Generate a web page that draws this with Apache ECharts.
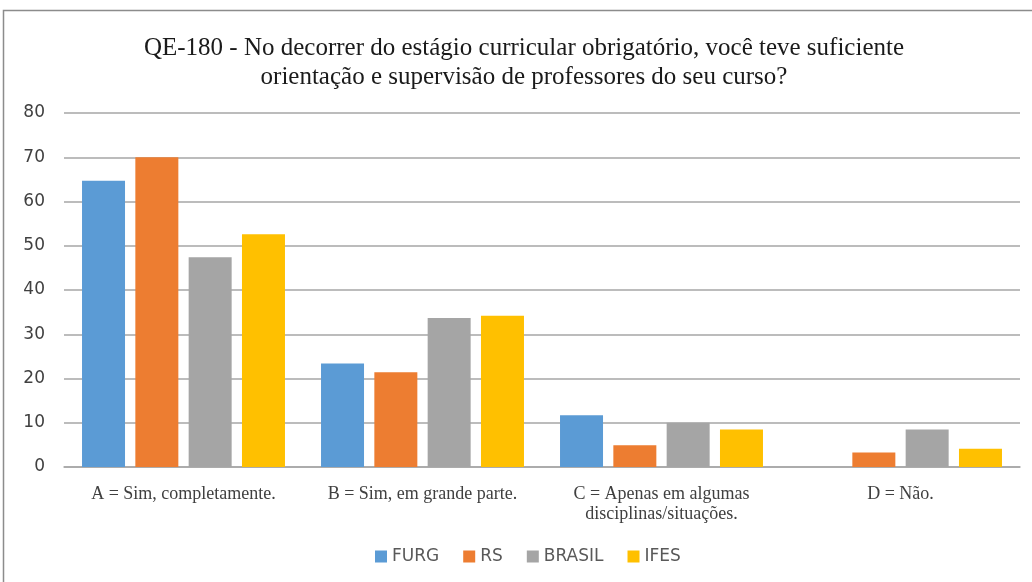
<!DOCTYPE html>
<html>
<head>
<meta charset="utf-8">
<script src="https://cdn.jsdelivr.net/npm/echarts@6/dist/echarts.min.js"></script>
<style>
  html, body { margin: 0; padding: 0; background: #fff; }
  #chart { width: 1032px; height: 582px; }
</style>
</head>
<body>
<div id="chart"></div>
<script>
// Survey answers (percent) per institution group
const categories = [
  'A = Sim, completamente.',
  'B = Sim, em grande parte.',
  'C = Apenas em algumas\ndisciplinas/situações.',
  'D = Não.'
];
const furg   = [64.7, 23.4, 11.7, 0];
const rs     = [70.0, 21.4, 4.9, 3.3];
const brasil = [47.4, 33.7, 10.0, 8.5];
const ifes   = [52.6, 34.2, 8.5, 4.1];
const seriesNames = ['FURG', 'RS', 'BRASIL', 'IFES'];
const seriesColors = ['#5B9BD5', '#ED7D31', '#A5A5A5', '#FFC000'];
const seriesValues = [furg, rs, brasil, ifes];

const chart = echarts.init(document.getElementById('chart'));

chart.setOption({
  animation: false,
  backgroundColor: '#fff',
  title: {
    text: 'QE-180 - No decorrer do estágio curricular obrigatório, você teve suficiente\norientação e supervisão de professores do seu curso?',
    left: 519,
    textAlign: 'center',
    top: 29,
    textStyle: {
      fontFamily: '"Liberation Serif", "DejaVu Serif", serif',
      fontSize: 25,
      fontWeight: 'normal',
      color: '#1a1a1a',
      lineHeight: 29
    }
  },
  legend: {
    bottom: 12,
    left: 370,
    itemWidth: 12,
    itemHeight: 12,
    itemGap: 24,
    icon: 'rect',
    textStyle: {
      fontFamily: '"DejaVu Sans", Verdana, sans-serif',
      fontSize: 17,
      color: '#595959'
    },
    data: seriesNames
  },
  grid: {
    left: 64,
    right: 12,
    top: 113,
    bottom: 115
  },
  xAxis: {
    type: 'category',
    data: categories,
    axisTick: { show: false },
    axisLine: { lineStyle: { color: '#a6a6a6', width: 1.5 } },
    axisLabel: {
      margin: 17,
      fontFamily: '"Liberation Serif", "DejaVu Serif", serif',
      fontSize: 18,
      lineHeight: 20,
      color: '#404040',
      interval: 0
    }
  },
  yAxis: {
    type: 'value',
    min: 0,
    max: 80,
    interval: 10,
    axisLine: { show: false },
    axisTick: { show: false },
    splitLine: { lineStyle: { color: '#a6a6a6', width: 1.5 } },
    axisLabel: {
      margin: 19,
      fontFamily: '"DejaVu Sans", Verdana, sans-serif',
      fontSize: 17,
      color: '#404040'
    }
  },
  series: seriesNames.map((name, i) => ({
    name: name,
    type: 'bar',
    data: seriesValues[i],
    barWidth: 43,
    barGap: '24%',
    itemStyle: { color: seriesColors[i] }
  })),
  graphic: [{
    type: 'rect',
    shape: { x: 3.5, y: 10.5, width: 1040, height: 590 },
    style: { fill: 'none', stroke: '#8c8c8c', lineWidth: 1.5 },
    silent: true
  }]
});
</script>
</body>
</html>
